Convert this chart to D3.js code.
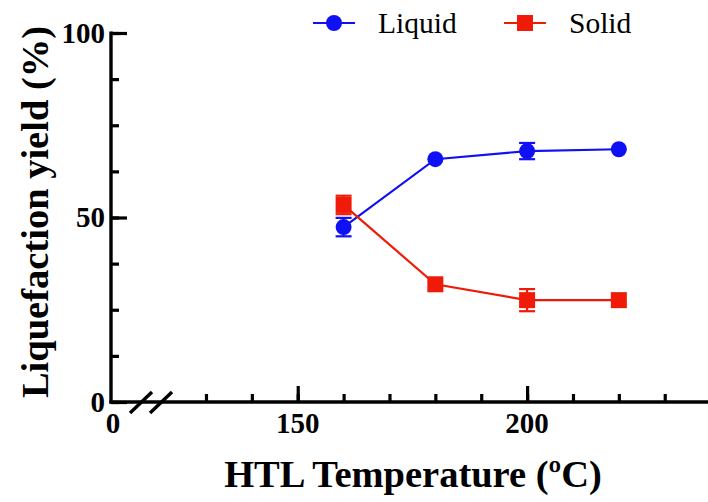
<!DOCTYPE html>
<html>
<head>
<meta charset="utf-8">
<script src="https://cdn.jsdelivr.net/npm/d3@7"></script>
<style>
  body { margin: 0; background: #fff; }
  svg text { font-family: "Liberation Serif", "Times New Roman", serif; }
</style>
</head>
<body>
<div id="container"></div>
<script>
// HTL temperature (oC) and yields (%)
const temps = [160, 180, 200, 220];
const liquid = [47.4, 65.8, 68.0, 68.5];
const liquidErr = [2.5, 0, 2.2, 0];
const solid = [53.4, 31.9, 27.6, 27.6];
const solidErr = [2.5, 0, 3.0, 0];

const yTicks = [0, 50, 100];
const xTickLabels = [150, 200];

const w = 708, h = 502;
const blue = "#1010f5", red = "#f01a08";

const svg = d3.select("#container").append("svg")
  .attr("width", w).attr("height", h);

const x0 = 111; // y axis position (x = 0, before the break)
const xScale = d3.scaleLinear().domain([120, 240]).range([160.1, 710.6]);
const yScale = d3.scaleLinear().domain([0, 100]).range([402, 33]);

// y axis: minor + major ticks pointing inward
svg.append("g")
  .attr("transform", "translate(" + x0 + ",0)")
  .call(d3.axisRight(yScale).tickValues(d3.range(0, 101, 12.5)).tickSize(8).tickFormat(""))
  .call(g => g.select(".domain").remove())
  .call(g => g.selectAll("line").attr("stroke", "#000").attr("stroke-width", 3.2));

svg.append("g")
  .attr("transform", "translate(" + x0 + ",0)")
  .call(d3.axisRight(yScale).tickValues(yTicks).tickSize(16).tickFormat(""))
  .call(g => g.select(".domain").remove())
  .call(g => g.selectAll("line").attr("stroke", "#000").attr("stroke-width", 3.2));

svg.append("line")
  .attr("x1", x0).attr("x2", x0)
  .attr("y1", yScale(100) - 1.6).attr("y2", yScale(0) + 1.6)
  .attr("stroke", "#000").attr("stroke-width", 3.4);

svg.selectAll(".ylab").data(yTicks).enter().append("text")
  .attr("class", "ylab")
  .attr("x", x0 - 6)
  .attr("y", d => yScale(d))
  .attr("dy", "0.34em")
  .attr("text-anchor", "end")
  .attr("font-weight", "bold")
  .attr("font-size", 29)
  .text(d => d);

// x axis with a break after 0
svg.append("line")
  .attr("x1", x0 - 1.6).attr("x2", w)
  .attr("y1", yScale(0)).attr("y2", yScale(0))
  .attr("stroke", "#000").attr("stroke-width", 3.4);

svg.append("g")
  .attr("transform", "translate(0," + yScale(0) + ")")
  .call(d3.axisTop(xScale).tickValues(d3.range(130, 241, 10)).tickSize(8).tickFormat(""))
  .call(g => g.select(".domain").remove())
  .call(g => g.selectAll("line").attr("stroke", "#000").attr("stroke-width", 3.2));

svg.append("g")
  .attr("transform", "translate(0," + yScale(0) + ")")
  .call(d3.axisTop(xScale).tickValues(xTickLabels).tickSize(16).tickFormat(""))
  .call(g => g.select(".domain").remove())
  .call(g => g.selectAll("line").attr("stroke", "#000").attr("stroke-width", 3.2));

svg.selectAll(".xlab").data(xTickLabels).enter().append("text")
  .attr("class", "xlab")
  .attr("x", d => xScale(d))
  .attr("y", 433)
  .attr("text-anchor", "middle")
  .attr("font-weight", "bold")
  .attr("font-size", 29)
  .text(d => d);

svg.append("text")
  .attr("x", x0 + 2).attr("y", 433)
  .attr("text-anchor", "middle")
  .attr("font-weight", "bold")
  .attr("font-size", 29)
  .text("0");

// break marks
[0, 20].forEach(off => {
  svg.append("line")
    .attr("x1", 130 + off).attr("y1", 413)
    .attr("x2", 152 + off).attr("y2", 392)
    .attr("stroke", "#000").attr("stroke-width", 3.4);
});

// axis titles
svg.append("text")
  .attr("x", 413).attr("y", 487)
  .attr("text-anchor", "middle")
  .attr("font-weight", "bold")
  .attr("font-size", 38.5)
  .text("HTL Temperature (\u00baC)");

svg.append("text")
  .attr("transform", "rotate(-90)")
  .attr("x", -212).attr("y", 48)
  .attr("text-anchor", "middle")
  .attr("font-weight", "bold")
  .attr("font-size", 38.5)
  .text("Liquefaction yield (%)");

// series
const series = [
  {name: "Liquid", vals: liquid, err: liquidErr, color: blue, shape: "circle"},
  {name: "Solid", vals: solid, err: solidErr, color: red, shape: "square"}
];

const line = d3.line().x((d, i) => xScale(temps[i])).y(d => yScale(d));

series.forEach(s => {
  const g = svg.append("g");
  g.append("path").datum(s.vals)
    .attr("d", line).attr("fill", "none")
    .attr("stroke", s.color).attr("stroke-width", 2.2);

  s.vals.forEach((v, i) => {
    if (!s.err[i]) return;
    const cx = xScale(temps[i]);
    const y1 = yScale(v + s.err[i]), y2 = yScale(v - s.err[i]);
    g.append("line").attr("x1", cx).attr("x2", cx).attr("y1", y1).attr("y2", y2)
      .attr("stroke", s.color).attr("stroke-width", 2.2);
    [y1, y2].forEach(yy => g.append("line")
      .attr("x1", cx - 8).attr("x2", cx + 8).attr("y1", yy).attr("y2", yy)
      .attr("stroke", s.color).attr("stroke-width", 2.2));
  });

  if (s.shape === "circle") {
    g.selectAll("circle").data(s.vals).enter().append("circle")
      .attr("cx", (d, i) => xScale(temps[i])).attr("cy", d => yScale(d))
      .attr("r", 8).attr("fill", s.color);
  } else {
    g.selectAll("rect").data(s.vals).enter().append("rect")
      .attr("x", (d, i) => xScale(temps[i]) - 8).attr("y", d => yScale(d) - 8)
      .attr("width", 16).attr("height", 16).attr("fill", s.color);
  }
});

// legend
const legendX = [313, 504];
series.forEach((s, i) => {
  const lx = legendX[i], ly = 23;
  svg.append("line").attr("x1", lx).attr("x2", lx + 42).attr("y1", ly).attr("y2", ly)
    .attr("stroke", s.color).attr("stroke-width", 2.2);
  if (s.shape === "circle") {
    svg.append("circle").attr("cx", lx + 21).attr("cy", ly).attr("r", 8).attr("fill", s.color);
  } else {
    svg.append("rect").attr("x", lx + 13).attr("y", ly - 8).attr("width", 16).attr("height", 16).attr("fill", s.color);
  }
  svg.append("text")
    .attr("x", lx + 65).attr("y", 33)
    .attr("font-size", 29.5)
    .text(s.name);
});
</script>
</body>
</html>
